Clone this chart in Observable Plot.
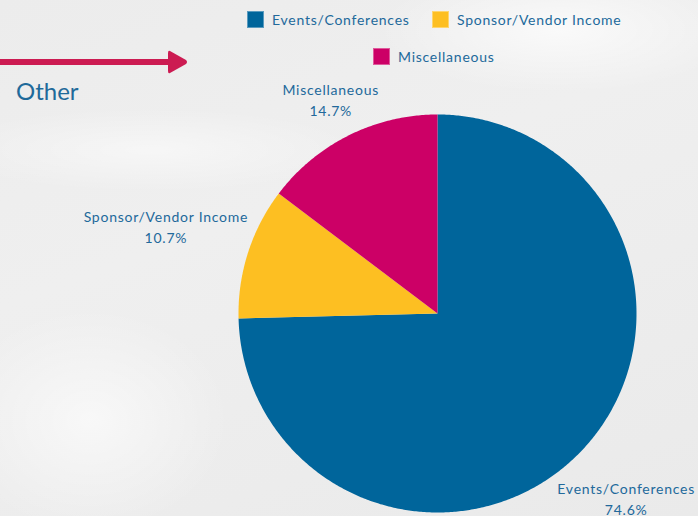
<!DOCTYPE html>
<html>
<head>
<meta charset="utf-8">
<script src="https://cdn.jsdelivr.net/npm/d3@7"></script>
<script src="https://cdn.jsdelivr.net/npm/@observablehq/plot@0.6"></script>
<style>
  html, body { margin: 0; padding: 0; }
  body {
    width: 698px; height: 516px; overflow: hidden;
    font-family: Lato, "Open Sans", sans-serif;
    background:
      radial-gradient(ellipse 260px 90px at 560px 30px, rgba(255,255,255,0.7), rgba(255,255,255,0) 70%),
      radial-gradient(ellipse 200px 160px at 90px 420px, rgba(255,255,255,0.6), rgba(255,255,255,0) 70%),
      radial-gradient(ellipse 300px 60px at 150px 150px, rgba(255,255,255,0.5), rgba(255,255,255,0) 70%),
      linear-gradient(160deg, #ececec 0%, #efefef 40%, #eaeaea 100%);
  }
  #wrap { position: relative; width: 698px; height: 516px; }
  #topbar { position: relative; height: 76px; }
  .leg { position: absolute; display: flex; align-items: center; font-size: 14px; letter-spacing: 0.75px; color: #22699b; white-space: nowrap; }
  .sw { width: 17px; height: 17px; margin-right: 8px; box-sizing: border-box; border: 1px solid rgba(255,255,255,0.35); }
  #other { position: absolute; left: 16px; top: 76px; font-size: 24px; font-weight: 400; color: #1f6a9a; }
  #arrow { position: absolute; left: 0; top: 40px; }
  #chart svg text { letter-spacing: 0.75px; }
</style>
</head>
<body>
<div id="wrap">
  <div id="topbar"></div>
  <div id="chart"></div>
</div>
<script>
const categories = ["Events/Conferences", "Sponsor/Vendor Income", "Miscellaneous"];
const values = [74.6, 10.7, 14.7];
const colors = ["#00659b", "#fdbf22", "#cc0066"];
const percentLabels = ["74.6%", "10.7%", "14.7%"];
const sideLabel = "Other";

const textColor = "#22699b";
const W = 698, H = 440;
const cx = 437, cy = 237, R = 199;
const spacing = 0.75;

// Decorations and legend (HTML)
const topbar = document.getElementById("topbar");
const legendPos = [[247, 11], [432, 11], [373, 48]];
categories.forEach((c, i) => {
  const d = document.createElement("div");
  d.className = "leg";
  d.style.left = legendPos[i][0] + "px";
  d.style.top = legendPos[i][1] + "px";
  d.innerHTML = `<div class="sw" style="background:${colors[i]}"></div><span>${c}</span>`;
  topbar.appendChild(d);
});
const o = document.createElement("div");
o.id = "other"; o.textContent = sideLabel;
document.getElementById("wrap").appendChild(o);
const ar = document.createElementNS("http://www.w3.org/2000/svg", "svg");
ar.setAttribute("id", "arrow"); ar.setAttribute("width", 200); ar.setAttribute("height", 44);
ar.innerHTML = `<line x1="0" y1="22" x2="172" y2="22" stroke="#cc1b52" stroke-width="6"/>
<path d="M170,11 L186,20 Q188,22 186,24 L170,33 Q168,34 168,31 L168,13 Q168,10 170,11 Z" fill="#cc1b52"/>`;
document.getElementById("wrap").appendChild(ar);

// Pie geometry from the data
const total = d3.sum(values);
let acc = 0;
const slices = values.map((v, i) => {
  const a0 = acc / total * 2 * Math.PI;
  acc += v;
  const a1 = acc / total * 2 * Math.PI;
  const ring = [[0, 0]];
  const n = Math.max(2, Math.ceil((a1 - a0) / (Math.PI / 360)));
  for (let k = 0; k <= n; k++) {
    const a = a0 + (a1 - a0) * k / n;
    ring.push([R * Math.sin(a), R * Math.cos(a)]);
  }
  ring.push([0, 0]);
  return {type: "Feature", properties: {category: categories[i], mid: (a0 + a1) / 2}, geometry: {type: "Polygon", coordinates: [ring]}};
});

const ctx = document.createElement("canvas").getContext("2d");
ctx.font = "14px Lato";
const tw = s => ctx.measureText(s).width + spacing * s.length;
const labels = slices.map((s, i) => {
  const w = Math.max(tw(categories[i]), tw(percentLabels[i]));
  const h = 38, gap = 2;
  const m = s.properties.mid;
  const rr = R + gap + Math.abs(Math.sin(m)) * w / 2 + Math.abs(Math.cos(m)) * h / 2;
  return {x: rr * Math.sin(m), y: rr * Math.cos(m), text: categories[i] + "\n" + percentLabels[i]};
});

const chart = Plot.plot({
  width: W, height: H, margin: 0,
  style: {background: "transparent", fontFamily: "Lato, 'Open Sans', sans-serif", overflow: "visible"},
  projection: {type: "reflect-y", domain: {type: "MultiPoint", coordinates: [[-cx, -(H - cy)], [W - cx, cy]]}},
  color: {domain: categories, range: colors},
  marks: [
    Plot.geo(slices, {fill: d => d.properties.category, stroke: "none"}),
    Plot.text(labels, {x: "x", y: "y", text: "text", fill: textColor, fontSize: 14, lineHeight: 1.5, textAnchor: "middle"})
  ]
});
document.getElementById("chart").appendChild(chart);
</script>
</body>
</html>
